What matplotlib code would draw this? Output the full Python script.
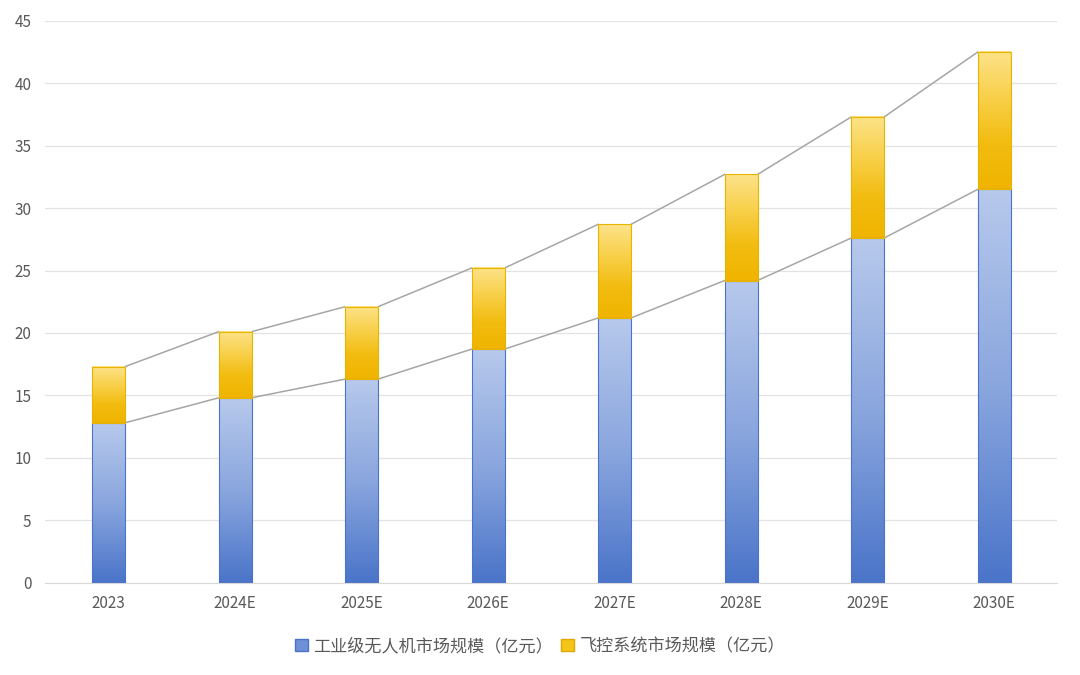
import numpy as np
import matplotlib
matplotlib.use("Agg")
import matplotlib.pyplot as plt
from matplotlib.colors import LinearSegmentedColormap
from matplotlib.patches import Patch

plt.rcParams['font.family'] = ['Noto Sans CJK SC', 'DejaVu Sans']

years = ['2023', '2024E', '2025E', '2026E', '2027E', '2028E', '2029E', '2030E']
drone = [12.8, 14.8, 16.3, 18.7, 21.2, 24.2, 27.6, 31.5]     # 工业级无人机市场规模
flight = [4.5, 5.3, 5.8, 6.5, 7.5, 8.5, 9.7, 11.0]          # 飞控系统市场规模
labels = ['工业级无人机市场规模（亿元）', '飞控系统市场规模（亿元）']

blue_cm = LinearSegmentedColormap.from_list('b', ['#4a74c9', '#8aa6de', '#b7c9ec'])
gold_cm = LinearSegmentedColormap.from_list('g', ['#f0b400', '#f2bc10', '#f8d04a', '#fde38a'])

fig = plt.figure(figsize=(10.8, 6.75), dpi=100)
ax = fig.add_axes([0.042, 0.137, 0.937, 0.832])

x = np.arange(len(years))
w = 0.26
tot = np.array(drone) + np.array(flight)

b1 = ax.bar(x, drone, w, color='none', edgecolor='#4a74c9', linewidth=0.8, zorder=3)
b2 = ax.bar(x, flight, w, bottom=drone, color='none', edgecolor='#e8b400', linewidth=0.8, zorder=3)

grad = np.linspace(0, 1, 256).reshape(-1, 1)
for bars, cm in ((b1, blue_cm), (b2, gold_cm)):
    for r in bars:
        x0, y0 = r.get_x(), r.get_y()
        ax.imshow(grad, cmap=cm, origin='lower', aspect='auto', zorder=2,
                  extent=[x0, x0 + r.get_width(), y0, y0 + r.get_height()])

# series lines between bar tops
for vals in (np.array(drone), tot):
    for i in range(len(x) - 1):
        ax.plot([x[i] + w / 2, x[i + 1] - w / 2], [vals[i], vals[i + 1]],
                color='#a6a6a6', lw=1.1, zorder=1)

ax.set_xlim(-0.5, len(years) - 0.5)
ax.set_ylim(0, 45)
ax.set_yticks(range(0, 46, 5))
ax.set_xticks(x)
ax.set_xticklabels(years)
ax.yaxis.grid(True, color='#e3e3e3', lw=0.9)
ax.set_axisbelow(True)
for s in ['top', 'right', 'left']:
    ax.spines[s].set_visible(False)
ax.spines['bottom'].set_color('#d9d9d9')
ax.tick_params(length=0, labelsize=11, colors='#595959')
ax.tick_params(axis='x', pad=9)
ax.tick_params(axis='y', pad=10)

handles = [Patch(facecolor='#6f8fd6', edgecolor='#4a74c9'),
           Patch(facecolor='#f5c518', edgecolor='#e0a800')]
fig.legend(handles, labels, loc='center', bbox_to_anchor=(0.5, 0.043), ncol=2,
           frameon=False, fontsize=12.3, labelcolor='#595959',
           handlelength=0.75, handleheight=0.75, handletextpad=0.3, columnspacing=0.5)

fig.savefig('out.png', dpi=100)
